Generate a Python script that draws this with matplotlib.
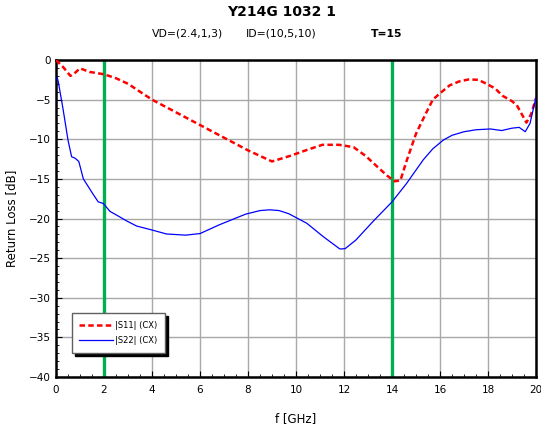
import numpy as np
from matplotlib import pyplot as plt
from matplotlib.ticker import MultipleLocator

# S-parameter sweep, return loss in dB
f_s11 = [0.0, 0.3, 0.6, 0.8, 1.0, 1.4, 2.0, 2.5, 3.0, 3.5, 4.0, 5.0, 6.0, 7.0, 8.0, 8.5, 9.0,
         9.75, 10.5, 11.1, 11.8, 12.4, 12.9, 13.4, 13.8, 14.1, 14.35, 14.6, 15.0, 15.4, 15.7,
         16.0, 16.4, 16.8, 17.2, 17.6, 18.0, 18.3, 18.6, 19.0, 19.2, 19.4, 19.6, 19.8, 20.0]
s11 = [0.0, -0.9, -2.0, -1.6, -1.05, -1.5, -1.8, -2.3, -3.0, -4.0, -5.0, -6.6, -8.2, -9.8, -11.4,
       -12.1, -12.8, -12.1, -11.3, -10.7, -10.7, -11.0, -12.1, -13.5, -14.6, -15.3, -15.2, -12.8,
       -9.3, -6.8, -5.0, -4.2, -3.2, -2.7, -2.45, -2.5, -3.1, -3.6, -4.5, -5.2, -5.7, -6.8, -7.9,
       -6.8, -4.8]

f_s22 = [0.05, 0.1, 0.3, 0.5, 0.65, 0.8, 0.95, 1.14, 1.35, 1.56, 1.76, 1.97, 2.25, 2.6, 2.94,
         3.36, 4.0, 4.6, 5.4, 6.0, 6.8, 7.9, 8.5, 8.9, 9.3, 9.7, 10.45, 11.14, 11.83, 12.05,
         12.5, 13.2, 14.0, 14.6, 15.3, 15.7, 16.14, 16.5, 17.0, 17.5, 18.1, 18.57, 19.0, 19.3,
         19.55, 19.75, 19.9, 20.0]
s22 = [-2.2, -2.8, -6.3, -10.1, -12.2, -12.4, -12.8, -15.0, -16.0, -17.0, -17.9, -18.1, -19.1,
       -19.7, -20.3, -20.95, -21.45, -21.95, -22.1, -21.9, -20.8, -19.45, -19.0, -18.9, -19.0,
       -19.4, -20.6, -22.3, -23.85, -23.8, -22.7, -20.4, -17.9, -15.6, -12.6, -11.2, -10.1,
       -9.5, -9.05, -8.8, -8.7, -8.9, -8.6, -8.5, -9.05, -8.0, -6.0, -4.7]

markers_f = [2, 14]

fig = plt.figure(figsize=(5.41, 4.29), dpi=100)
ax = fig.add_axes([0.1035, 0.1212, 0.8873, 0.7389])

ax.grid(True, color='#a8a8a8', linewidth=1.0)
ax.set_axisbelow(True)
for fm in markers_f:
    ax.axvline(fm, color='#00b050', linewidth=2.4, zorder=2)

ax.plot(f_s11, s11, color='#ff0000', linestyle=(0, (2.2, 1.3)), linewidth=1.8,
        label='|S11| (CX)', zorder=3)
ax.plot(f_s22, s22, color='#0000ff', linewidth=0.9, label='|S22| (CX)', zorder=3)

ax.set_xlim(0, 20)
ax.set_ylim(-40, 0)
ax.xaxis.set_major_locator(MultipleLocator(2))
ax.xaxis.set_minor_locator(MultipleLocator(0.5))
ax.yaxis.set_major_locator(MultipleLocator(5))
ax.yaxis.set_minor_locator(MultipleLocator(1))
ax.tick_params(which='both', direction='in', labelsize=7.5, colors='black')
ax.tick_params(which='major', length=4)
ax.tick_params(which='minor', length=2.5)
ax.tick_params(axis='x', pad=6)
for sp in ax.spines.values():
    sp.set_linewidth(1.8)

ax.set_xlabel('f [GHz]', fontsize=8.5, labelpad=12)
ax.set_ylabel('Return Loss [dB]', fontsize=8.5, labelpad=8)

fig.text(0.52, 0.973, 'Y214G 1032 1', ha='center', va='center', fontsize=10, fontweight='bold')
fig.text(0.346, 0.921, 'VD=(2.4,1,3)', ha='center', va='center', fontsize=7.8)
fig.text(0.52, 0.921, 'ID=(10,5,10)', ha='center', va='center', fontsize=7.8)
fig.text(0.714, 0.921, 'T=15', ha='center', va='center', fontsize=7.8, fontweight='bold')

leg = ax.legend(loc='lower left', bbox_to_anchor=(0.033, 0.076), borderaxespad=0, fontsize=6,
                frameon=True, fancybox=False, shadow={'color': 'black', 'alpha': 1.0},
                borderpad=0.9, labelspacing=0.8, handlelength=4.0, handletextpad=0.3)
leg.get_frame().set_edgecolor('#606060')
leg.get_frame().set_linewidth(1.0)

plt.savefig('out.png', dpi=100)
